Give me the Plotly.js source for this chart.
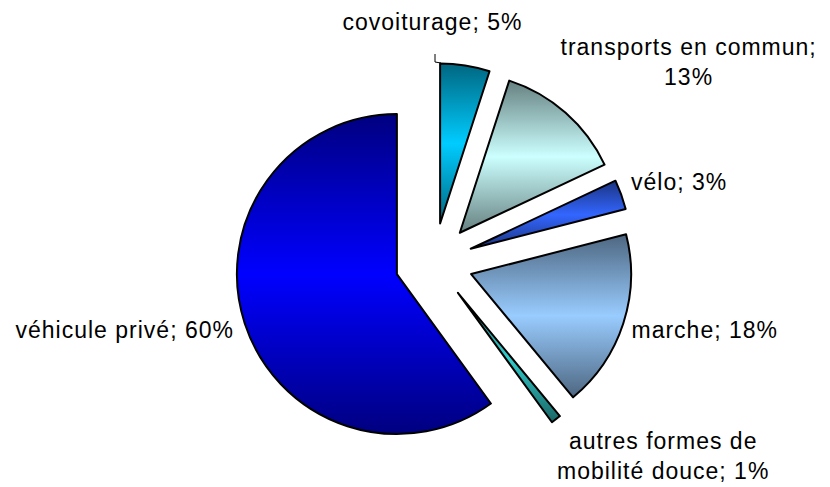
<!DOCTYPE html>
<html>
<head>
<meta charset="utf-8">
<script src="https://cdn.plot.ly/plotly-3.0.1.min.js"></script>
<style>
  html, body { margin: 0; padding: 0; background: #ffffff; }
  #chart { width: 830px; height: 487px; }
</style>
</head>
<body>
<div id="chart"></div>
<script>
// ---- data ----
const categories = ['covoiturage', 'transports en commun', 'vélo', 'marche', 'autres formes de mobilité douce', 'véhicule privé'];
const shares = [5, 13, 3, 18, 1, 60];

// ---- styles (kept apart from data) ----
const brightColors = ['#00CCFF', '#CCFFFF', '#3366FF', '#99CCFF', '#33CCCC', '#0000FF'];
const darkColors   = ['#006680', '#668080', '#1A3380', '#4D6680', '#1A6666', '#000080'];
// label placement in pixels (center) and optional line-break word index
const labelPos = [
  {px: 432, py: 22},
  {px: 688, py: 62, breakAfter: 3},
  {px: 679, py: 182},
  {px: 705, py: 330},
  {px: 663, py: 456, breakAfter: 3},
  {px: 124, py: 330}
];

const W = 830, H = 487;

function labelText(i) {
  const full = categories[i] + '; ' + shares[i] + '%';
  const brk = labelPos[i].breakAfter;
  if (!brk) return full;
  const allWords = full.split(' ');
  if (brk >= allWords.length) return full;
  return allWords.slice(0, brk).join(' ') + '<br>' + allWords.slice(brk).join(' ');
}

const data = [{
  type: 'pie',
  labels: categories,
  values: shares,
  sort: false,
  direction: 'clockwise',
  rotation: 0,
  pull: categories.map(() => 0.244),
  textinfo: 'none',
  hoverinfo: 'label+percent',
  showlegend: false,
  marker: {
    colors: brightColors,
    line: { color: '#000000', width: 2 }
  },
  domain: { x: [235 / W, 633 / W], y: [1 - 461 / H, 1 - 63 / H] }
}];

const annotations = categories.map((c, i) => ({
  xref: 'paper', yref: 'paper',
  x: labelPos[i].px / W, y: 1 - labelPos[i].py / H,
  xanchor: 'center', yanchor: 'middle',
  text: labelText(i),
  showarrow: false,
  align: 'center',
  font: { family: 'Liberation Sans, Arial, sans-serif', size: 23, color: '#000000' }
}));

const layout = {
  width: W, height: H,
  margin: { l: 0, r: 0, t: 0, b: 0 },
  paper_bgcolor: '#ffffff',
  plot_bgcolor: '#ffffff',
  showlegend: false,
  annotations: annotations,
  shapes: [{
    type: 'path', xref: 'paper', yref: 'paper',
    path: 'M ' + (435 / W) + ' ' + (1 - 54 / H) + ' L ' + (435 / W) + ' ' + (1 - 62 / H) + ' L ' + (441 / W) + ' ' + (1 - 63 / H),
    line: { color: '#000000', width: 1 }
  }]
};

const gd = document.getElementById('chart');
Plotly.newPlot(gd, data, layout, { displayModeBar: false, staticPlot: true }).then(() => {
  const ns = 'http://www.w3.org/2000/svg';
  const svg = gd.querySelector('svg.main-svg');
  let defs = svg.querySelector('defs');
  if (!defs) { defs = document.createElementNS(ns, 'defs'); svg.insertBefore(defs, svg.firstChild); }
  brightColors.forEach((b, i) => {
    const lg = document.createElementNS(ns, 'linearGradient');
    lg.setAttribute('id', 'sliceGrad' + i);
    lg.setAttribute('x1', '0'); lg.setAttribute('y1', '0');
    lg.setAttribute('x2', '0'); lg.setAttribute('y2', '1');
    [[0, darkColors[i]], [0.5, b], [1, darkColors[i]]].forEach(([o, col]) => {
      const st = document.createElementNS(ns, 'stop');
      st.setAttribute('offset', o);
      st.setAttribute('stop-color', col);
      lg.appendChild(st);
    });
    defs.appendChild(lg);
  });
  gd.querySelectorAll('g.slice path.surface').forEach((p, i) => {
    p.style.fill = 'url(#sliceGrad' + i + ')';
  });
  gd.querySelectorAll('.annotation-text').forEach(t => {
    t.style.letterSpacing = '1px';
  });
});
</script>
</body>
</html>
